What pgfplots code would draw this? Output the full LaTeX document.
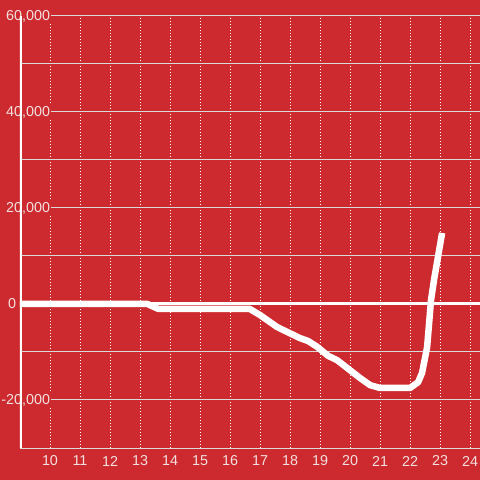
\documentclass[border=0pt]{standalone}
\usepackage{pgfplots}
\pgfplotsset{compat=1.18}
\usepackage{fontspec}
\setmainfont{Liberation Sans}
\definecolor{bg}{RGB}{204,42,46}
\definecolor{lbl}{RGB}{242,224,224}
\definecolor{gridgray}{RGB}{218,218,218}

\begin{document}
\begin{tikzpicture}
\fill[bg] (0,0) rectangle (480bp,480bp);
\useasboundingbox (0,0) rectangle (480bp,480bp);
\begin{axis}[
  at={(20bp,32bp)}, anchor=south west,
  scale only axis, width=460bp, height=432bp,
  xmin=9, xmax=24.333, ymin=-30000, ymax=60000,
  axis line style={draw=none},
  major tick length=0pt, minor tick length=0pt,
  scaled y ticks=false, scaled x ticks=false,
  /pgf/number format/assume math mode=true,
  xtick={10,...,24},
  ytick={-20000,0,20000,40000,60000},
  yticklabels={{\llap{-}20,000},{\hspace*{2bp}0},{20,000},{40,000},{60,000}},
  minor ytick={-30000,-10000,10000,30000,50000},
  xmajorgrids, ymajorgrids, yminorgrids,
  major x grid style={white, dash pattern=on 1.5bp off 1.5bp, line width=1bp},
  major y grid style={gridgray, line width=1bp},
  minor y grid style={gridgray, line width=1bp},
  yticklabel style={font=\Large, anchor=west, xshift=-15bp, fill=bg, inner sep=1bp, text=lbl},
  xticklabel style={font=\Large, anchor=center, yshift=-13bp, text=lbl},
  extra y ticks={0},
  extra y tick labels={},
  extra y tick style={major y grid style={white, line width=3bp}, yticklabel style={fill=none}},
]
\draw[white, line width=3bp] (axis cs:9,-30000) -- (axis cs:9,60000);
\addplot[white, line width=6.5bp, line join=round, line cap=butt] coordinates {
  (9,0) (13.25,0) (13.6,-1000) (16.65,-1000) (17.0,-2300) (17.57,-4800)
  (17.9,-5800) (18.33,-7100) (18.6,-7700) (18.9,-8900) (19.27,-10800)
  (19.57,-11700) (19.9,-13300) (20.33,-15400) (20.67,-16900) (21.0,-17500)
  (22.0,-17500) (22.27,-16300) (22.4,-14400) (22.57,-9000) (22.7,800)
  (22.8,5000) (23.07,14800)
};
\end{axis}
\end{tikzpicture}
\end{document}
